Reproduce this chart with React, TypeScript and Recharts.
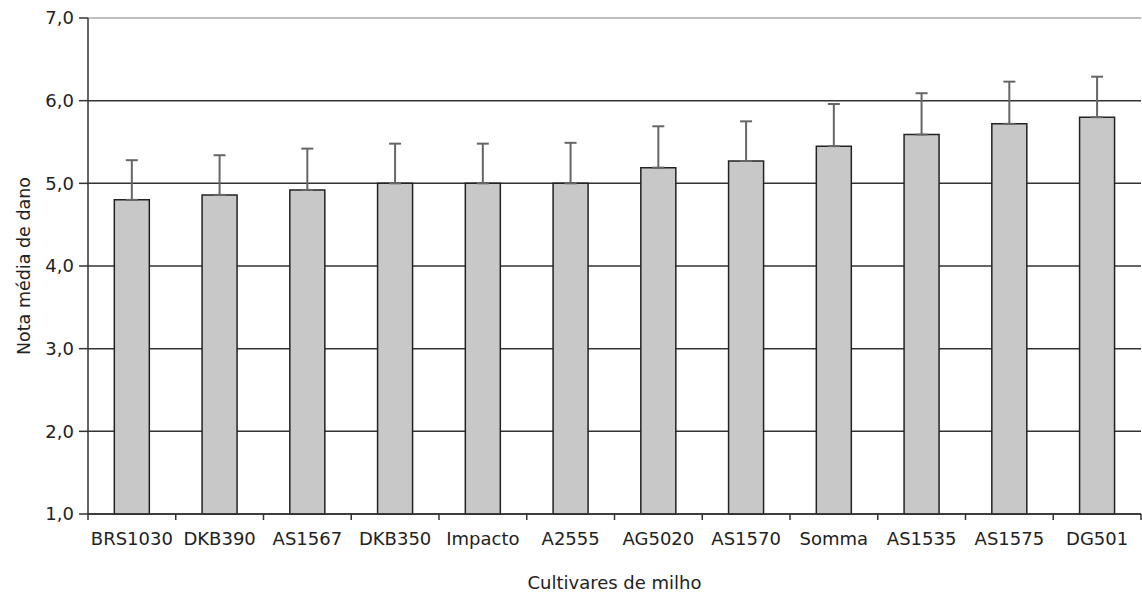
import React from 'react';
import { Bar, BarChart, CartesianGrid, ErrorBar, ReferenceLine, XAxis, YAxis } from 'recharts';

const cultivares = [
  'BRS1030', 'DKB390', 'AS1567', 'DKB350', 'Impacto', 'A2555',
  'AG5020', 'AS1570', 'Somma', 'AS1535', 'AS1575', 'DG501',
];
const medias = [4.8, 4.86, 4.92, 5.0, 5.0, 5.0, 5.19, 5.27, 5.45, 5.59, 5.72, 5.8];
const erros = [0.48, 0.48, 0.5, 0.48, 0.48, 0.49, 0.5, 0.48, 0.51, 0.5, 0.51, 0.49];
const yTicks = [1, 2, 3, 4, 5, 6, 7];

const data = cultivares.map((nome, i) => ({
  nome,
  media: medias[i],
  erro: [0, erros[i]],
}));

const W = 1142;
const H = 592;
const MARGIN = { top: 18, right: 1, bottom: 0, left: 0 };
const Y_AXIS_W = 88;
const TEXT = '#222';
const AXIS = '#333';
const FONT = '"DejaVu Sans", sans-serif';

const fmt = (v: number) => v.toFixed(1).replace('.', ',');

// category labels centred, tick marks on the band boundaries
const CategoryTick = (props: any) => {
  const { x, y, payload, index, visibleTicksCount } = props;
  const count = visibleTicksCount || cultivares.length;
  const band = (W - MARGIN.left - MARGIN.right - Y_AXIS_W) / count;
  const axisY = y - 18;
  return (
    <g>
      <line x1={x - band / 2} x2={x - band / 2} y1={axisY} y2={axisY + 6} stroke={AXIS} strokeWidth={1.5} />
      {index === count - 1 && (
        <line x1={x + band / 2} x2={x + band / 2} y1={axisY} y2={axisY + 6} stroke={AXIS} strokeWidth={1.5} />
      )}
      <text x={x} y={y} dy="0.72em" textAnchor="middle" fill={TEXT} fontSize={18} fontFamily={FONT}>
        {payload.value}
      </text>
    </g>
  );
};

export default function App() {
  return (
    <div style={{ position: 'absolute', left: 0, top: 0, background: '#fff' }}>
      <BarChart width={W} height={H} data={data} margin={MARGIN} barCategoryGap="30%">
        <CartesianGrid vertical={false} stroke={AXIS} strokeWidth={1.5} />
        {/* top line is light grey in the original */}
        <ReferenceLine y={7} stroke="#fff" strokeWidth={3} />
        <ReferenceLine y={7} stroke="#aaa" strokeWidth={1.5} />
        <XAxis
          dataKey="nome"
          height={H - 514}
          axisLine={{ stroke: AXIS, strokeWidth: 1.5 }}
          tickLine={false}
          tickSize={6}
          tickMargin={12}
          interval={0}
          tick={<CategoryTick />}
          label={{
            value: 'Cultivares de milho',
            position: 'insideBottom',
            offset: 3,
            fill: TEXT,
            fontSize: 18,
            fontFamily: FONT,
          }}
        />
        <YAxis
          width={Y_AXIS_W}
          domain={[1, 7]}
          ticks={yTicks}
          interval={0}
          tickFormatter={fmt}
          axisLine={{ stroke: AXIS, strokeWidth: 1.5 }}
          tickLine={{ stroke: AXIS, strokeWidth: 1.5 }}
          tickSize={9}
          tickMargin={5}
          tick={{ fill: TEXT, fontSize: 18, fontFamily: FONT }}
          label={{
            value: 'Nota média de dano',
            angle: -90,
            position: 'insideLeft',
            offset: 24,
            fill: TEXT,
            fontSize: 17.5,
            fontFamily: FONT,
            style: { textAnchor: 'middle' },
          }}
        />
        <Bar dataKey="media" fill="#c8c8c8" stroke="#222" strokeWidth={1.5} isAnimationActive={false}>
          <ErrorBar dataKey="erro" direction="y" width={6} stroke="#666" strokeWidth={2} />
        </Bar>
      </BarChart>
    </div>
  );
}
